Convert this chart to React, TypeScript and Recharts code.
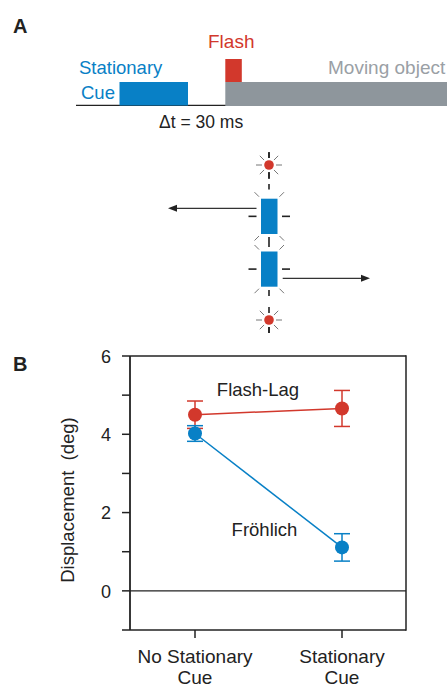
import React from 'react';
import { LineChart, Line, XAxis, YAxis, ErrorBar, ReferenceLine } from 'recharts';

const categories = ['No Stationary Cue', 'Stationary Cue'];
const categoryLine1 = ['No Stationary', 'Stationary'];
const categoryLine2 = ['Cue', 'Cue'];
const flashLag = [4.5, 4.66];
const flashLagErr = [0.35, 0.46];
const frohlich = [4.02, 1.11];
const frohlichErr = [0.2, 0.35];
const yTicks = [-1, 0, 1, 2, 3, 4, 5, 6];
const yLabeled = [0, 2, 4, 6];

const RED = '#d2382c';
const BLUE = '#0880c6';
const GRAY = '#8e969c';
const INK = '#222';
const FONT = '"Liberation Sans", Arial, Helvetica, sans-serif';

const data = categories.map((c, i) => ({
  cat: c,
  flashLag: flashLag[i],
  flashLagErr: flashLagErr[i],
  frohlich: frohlich[i],
  frohlichErr: frohlichErr[i],
}));

const XTick = (props: any) => {
  const { x, y, index } = props;
  return (
    <g>
      <text x={x} y={y + 25} textAnchor="middle" fontSize={19} fill={INK} fontFamily={FONT}>
        {categoryLine1[index]}
      </text>
      <text x={x} y={y + 46} textAnchor="middle" fontSize={19} fill={INK} fontFamily={FONT}>
        {categoryLine2[index]}
      </text>
    </g>
  );
};

const YTick = (props: any) => {
  const { x, y, payload } = props;
  if (!yLabeled.includes(payload.value)) return <g />;
  return (
    <text x={x} y={y} dy="0.38em" textAnchor="end" fontSize={18} fill={INK} fontFamily={FONT}>
      {payload.value}
    </text>
  );
};

const Burst = ({ cx, cy }: { cx: number; cy: number }) => {
  const rays = [0, 45, 90, 135, 180, 225, 270, 315];
  return (
    <g>
      {rays.map((a) => {
        const r = (a * Math.PI) / 180;
        const vertical = a === 90 || a === 270;
        return (
          <line
            key={a}
            x1={cx + Math.cos(r) * 7}
            y1={cy + Math.sin(r) * 7}
            x2={cx + Math.cos(r) * 13}
            y2={cy + Math.sin(r) * 13}
            stroke={vertical ? INK : '#777'}
            strokeWidth={vertical ? 1.6 : 1}
          />
        );
      })}
      <circle cx={cx} cy={cy} r={4.8} fill={RED} />
    </g>
  );
};

const CueRect = ({ x, y, w, h }: { x: number; y: number; w: number; h: number }) => {
  const cy = y + h / 2;
  return (
    <g>
      <rect x={x} y={y} width={w} height={h} fill={BLUE} />
      <line x1={x - 12.5} y1={cy} x2={x - 4.5} y2={cy} stroke={INK} strokeWidth={1.6} />
      <line x1={x + w + 4.5} y1={cy} x2={x + w + 12.5} y2={cy} stroke={INK} strokeWidth={1.6} />
      <line x1={x - 2} y1={y - 2} x2={x - 6.5} y2={y - 6.5} stroke="#777" strokeWidth={1} />
      <line x1={x + w + 2} y1={y - 2} x2={x + w + 6.5} y2={y - 6.5} stroke="#777" strokeWidth={1} />
      <line x1={x - 2} y1={y + h + 2} x2={x - 6.5} y2={y + h + 6.5} stroke="#777" strokeWidth={1} />
      <line x1={x + w + 2} y1={y + h + 2} x2={x + w + 6.5} y2={y + h + 6.5} stroke="#777" strokeWidth={1} />
    </g>
  );
};

const Dash = ({ y1, y2 }: { y1: number; y2: number }) => (
  <line x1={269} y1={y1} x2={269} y2={y2} stroke={INK} strokeWidth={1.6} />
);

const Overlay = () => (
  <svg
    width={447}
    height={687}
    style={{ position: 'absolute', left: 0, top: 0, pointerEvents: 'none' }}
    fontFamily={FONT}
  >
    {/* Panel A */}
    <text x={13} y={33} fontSize={20} fontWeight="bold" fill={INK}>A</text>
    <text x={208} y={48} fontSize={19} fill={RED}>Flash</text>
    <text x={79} y={74} fontSize={18.5} fill={BLUE}>Stationary</text>
    <text x={81} y={99} fontSize={18.5} fill={BLUE}>Cue</text>
    <text x={328} y={74} fontSize={19} fill="#9aa0a5">Moving object</text>
    <text x={159} y={128} fontSize={17.5} fill={INK}>Δt = 30 ms</text>
    <line x1={76} y1={105.3} x2={226} y2={105.3} stroke={INK} strokeWidth={1.2} />
    <rect x={119.5} y={82} width={68.5} height={23.5} fill={BLUE} />
    <rect x={225.3} y={59} width={16.5} height={23} fill={RED} />
    <rect x={225.3} y={82} width={222} height={24} fill={GRAY} />

    {/* schematic */}
    <Dash y1={152.5} y2={158} />
    <Burst cx={269} cy={165} />
    <Dash y1={172.5} y2={179} />
    <Dash y1={184} y2={189.5} />
    <CueRect x={261} y={198.7} w={16.5} h={35.3} />
    <Dash y1={237} y2={247} />
    <CueRect x={261} y={251.5} w={16.5} h={35.2} />
    <Dash y1={290} y2={296} />
    <Burst cx={269} cy={320} />
    <Dash y1={327} y2={333} />
    <line x1={256.5} y1={208.3} x2={176} y2={208.3} stroke="#333" strokeWidth={1.3} />
    <polygon points="168,208.3 177,204.8 177,211.8" fill="#222" />
    <line x1={282.7} y1={278.3} x2={362} y2={278.3} stroke="#333" strokeWidth={1.3} />
    <polygon points="370,278.3 361,274.8 361,281.8" fill="#222" />

    {/* Panel B frame (right edge) and annotations */}
    <line x1={406} y1={355.3} x2={406} y2={630.7} stroke={INK} strokeWidth={1.5} />
    <text x={13} y={371} fontSize={20} fontWeight="bold" fill={INK}>B</text>
    <text x={258} y={396} fontSize={18.5} textAnchor="middle" fill={INK}>Flash-Lag</text>
    <text x={264.5} y={535.5} fontSize={18.5} textAnchor="middle" fill={INK}>Fröhlich</text>
    <text
      x={0}
      y={0}
      fontSize={18.5}
      textAnchor="middle"
      fill={INK}
      transform="translate(74,500) rotate(-90)"
      style={{ whiteSpace: 'pre' }}
    >
      {'Displacement  (deg)'}
    </text>
  </svg>
);

export default function App() {
  return (
    <div style={{ position: 'absolute', left: 0, top: 0, width: 447, height: 687, background: '#fff', overflow: 'hidden' }}>
      <div style={{ position: 'absolute', left: 0, top: 340 }}>
        <LineChart width={447} height={347} data={data} margin={{ top: 16, right: 41, bottom: 7, left: 0 }}>
          <ReferenceLine y={0} stroke={INK} strokeWidth={1.2} ifOverflow="visible" />
          <ReferenceLine y={6} stroke={INK} strokeWidth={1.5} ifOverflow="visible" />
          <XAxis
            dataKey="cat"
            height={50}
            padding={{ left: 65, right: 64 }}
            axisLine={{ stroke: INK, strokeWidth: 1.5 }}
            tickLine={{ stroke: INK, strokeWidth: 1.5 }}
            tickSize={8}
            tickMargin={0}
            tick={<XTick />}
            interval={0}
          />
          <YAxis
            width={130}
            domain={[-1, 6]}
            ticks={yTicks}
            type="number"
            allowDataOverflow
            axisLine={{ stroke: INK, strokeWidth: 1.8 }}
            tickLine={{ stroke: INK, strokeWidth: 1.5 }}
            tickSize={8}
            tickMargin={11}
            tick={<YTick />}
            interval={0}
          />
          <Line
            dataKey="flashLag"
            stroke={RED}
            strokeWidth={1.5}
            dot={{ r: 7, fill: RED, stroke: RED, strokeWidth: 0 }}
            activeDot={false}
            isAnimationActive={false}
          >
            <ErrorBar dataKey="flashLagErr" width={8} stroke={RED} strokeWidth={1.5} />
          </Line>
          <Line
            dataKey="frohlich"
            stroke={BLUE}
            strokeWidth={1.5}
            dot={{ r: 7, fill: BLUE, stroke: BLUE, strokeWidth: 0 }}
            activeDot={false}
            isAnimationActive={false}
          >
            <ErrorBar dataKey="frohlichErr" width={8} stroke={BLUE} strokeWidth={1.5} />
          </Line>
        </LineChart>
      </div>
      <Overlay />
    </div>
  );
}
